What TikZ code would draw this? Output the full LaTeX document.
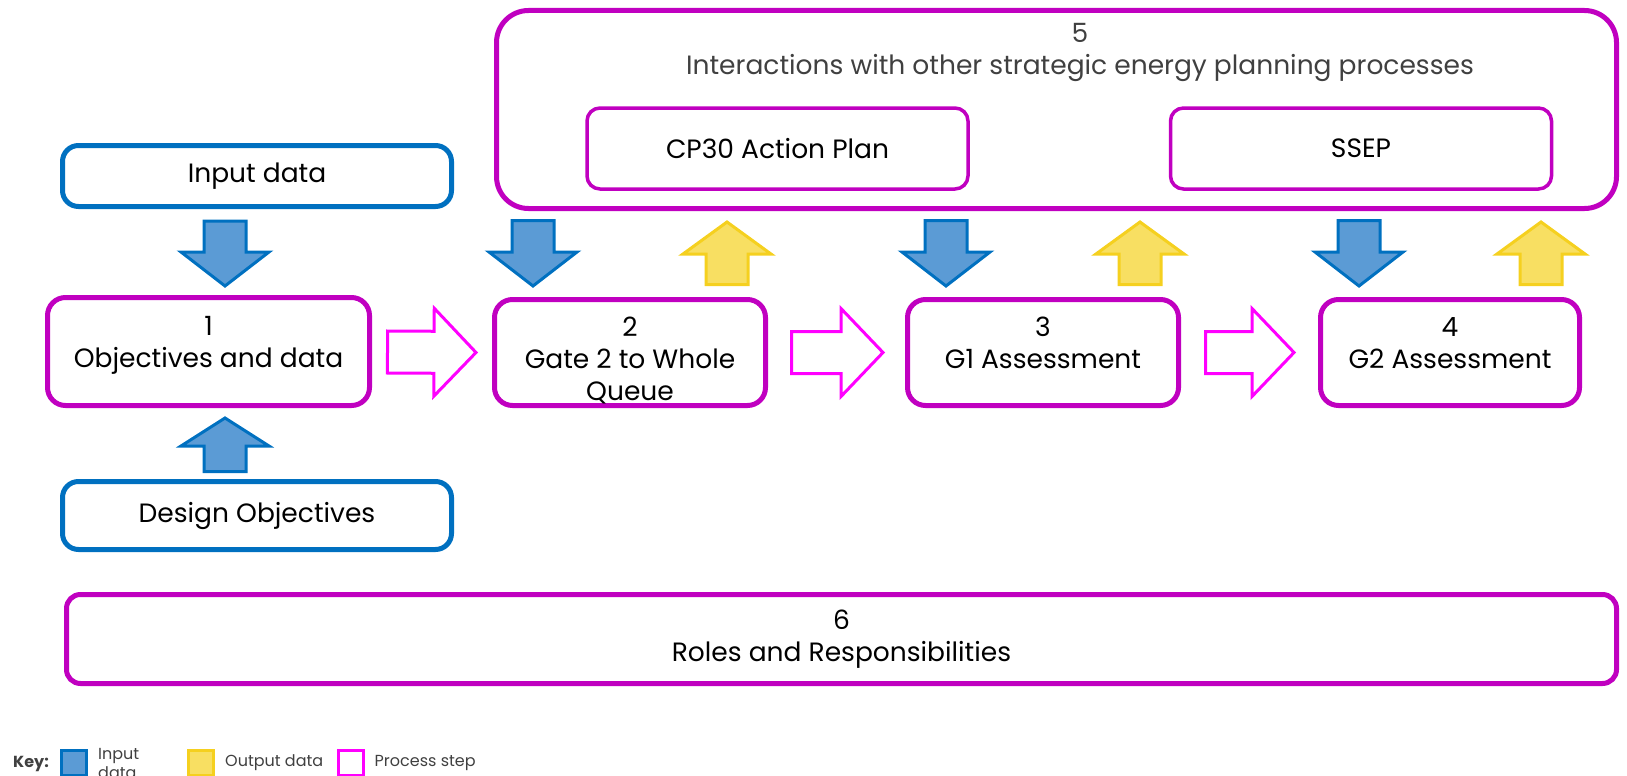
\documentclass[tikz,border=0pt]{standalone}
\usepackage{fontspec}
\setmainfont{Poppins}
\usetikzlibrary{positioning, calc}
\definecolor{procmag}{HTML}{C000C0}
\definecolor{steppink}{HTML}{FF00FF}
\definecolor{inblue}{HTML}{0070C0}
\definecolor{inblfill}{HTML}{5B9BD5}
\definecolor{outyel}{HTML}{F5D01F}
\definecolor{outylfill}{HTML}{F8DF62}
\definecolor{keygray}{HTML}{404040}

% block arrow: #2 = base, #3 = tip, #4 = head length
\newcommand{\blockarrow}[4][]{%
  \coordinate (hb) at ($(#3)!#4!(#2)$);
  \draw[#1] ($(#2)!21pt!90:(#3)$) -- ($(hb)!21pt!90:(#3)$) -- ($(hb)!44pt!90:(#3)$) -- (#3)
    -- ($(hb)!44pt!-90:(#3)$) -- ($(hb)!21pt!-90:(#3)$) -- ($(#2)!21pt!-90:(#3)$) -- cycle;
}

\begin{document}
\begin{tikzpicture}[x=1pt, y=-1pt,
    procbox/.style={rectangle, draw=procmag, line width=5pt, rounded corners=18pt},
    databox/.style={rectangle, draw=inblue, line width=5pt, rounded corners=16pt, font=\fontsize{26.5}{32}\selectfont},
    subbox/.style={rectangle, draw=procmag, line width=3.5pt, rounded corners=13pt, font=\fontsize{26.5}{32}\selectfont},
    proctext/.style={align=center, inner sep=0pt, font=\fontsize{26.5}{32}\selectfont},
    inarrow/.style={draw=inblue, fill=inblfill, line width=3pt},
    outarrow/.style={draw=outyel, fill=outylfill, line width=3pt},
    steparrow/.style={draw=steppink, line width=3pt},
    keybox/.style={rectangle, line width=3pt, minimum size=25pt, inner sep=0pt},
    keytext/.style={text=keygray, font=\fontsize{16}{19}\selectfont, align=left, inner sep=0pt}
]
\useasboundingbox (0,0) rectangle (1627,776);

% process steps
\node[procbox, minimum width=322pt, minimum height=108pt] (obj) at (208.5,351.5) {};
\node[procbox, minimum width=271pt, minimum height=106pt] (gate) at (630,352.5) {};
\node[procbox, minimum width=271pt, minimum height=106pt] (g1) at (1043,352.5) {};
\node[procbox, minimum width=259pt, minimum height=106pt] (g2) at (1450,352.5) {};

\node[proctext, below=21pt of obj.north] (objtxt) {1\\Objectives and data};
\node[proctext, below=20pt of gate.north] (gatetxt) {2\\Gate 2 to Whole\\Queue};
\node[proctext, below=20pt of g1.north] (g1txt) {3\\G1 Assessment};
\node[proctext, below=20pt of g2.north] (g2txt) {4\\G2 Assessment};

% interactions
\node[procbox, rounded corners=32pt, minimum width=1120pt, minimum height=198pt] (inter) at (1056.5,109.5) {};
\node[proctext, text=keygray, anchor=north] (intertxt) at (1080,23) {5\\Interactions with other strategic energy planning processes};
\node[subbox, minimum width=381pt, minimum height=81pt] (cp30) at (777.5,148.5) {CP30 Action Plan};
\node[subbox, minimum width=381pt, minimum height=81pt, right=199pt of cp30] (ssep) {SSEP};

% inputs
\node[databox, minimum width=389pt, minimum height=61pt] (indata) at (257,176) {Input data};
\node[databox, minimum width=389pt, minimum height=68pt] (design) at (257,515.5) {Design Objectives};

% roles
\node[procbox, rounded corners=14pt, minimum width=1550pt, minimum height=89pt, align=center,
      font=\fontsize{26.5}{32}\selectfont] (roles) at (841.5,639) {6\\Roles and Responsibilities};

% input arrows
\blockarrow[inarrow]{$(indata.south)+(-32,12)$}{$(obj.north)+(16.5,-9)$}{34pt}
\blockarrow[inarrow]{$(design.north)+(-32,-7.5)$}{$(obj.south)+(16.5,10)$}{28pt}
\blockarrow[inarrow]{$(inter.south)+(-523.5,9.5)$}{$(gate.north)+(-97,-11)$}{34pt}
\blockarrow[inarrow]{$(inter.south)+(-110.5,9.5)$}{$(g1.north)+(-97,-11)$}{34pt}
\blockarrow[inarrow]{$(inter.south)+(302.5,9.5)$}{$(g2.north)+(-91,-11)$}{34pt}

% output arrows
\blockarrow[outarrow]{$(gate.north)+(97,-12.5)$}{$(inter.south)+(-329.5,11)$}{32pt}
\blockarrow[outarrow]{$(g1.north)+(97,-12.5)$}{$(inter.south)+(83.5,11)$}{32pt}
\blockarrow[outarrow]{$(g2.north)+(91,-12.5)$}{$(inter.south)+(484.5,11)$}{32pt}

% process flow
\blockarrow[steparrow]{$(obj.east)+(15.5,0.5)$}{$(gate.west)+(-16,0)$}{42pt}
\blockarrow[steparrow]{$(gate.east)+(23.5,0)$}{$(g1.west)+(-22,0)$}{42pt}
\blockarrow[steparrow]{$(g1.east)+(24.5,0)$}{$(g2.west)+(-24,0)$}{42pt}

% key
\node[keytext, font=\bfseries\fontsize{16}{19}\selectfont, anchor=west] (keylbl) at (13,764) {Key:};
\node[keybox, draw=inblue, fill=inblfill] (keyin) at (74,763) {};
\node[keytext, right=10pt of keyin] (keyintxt) {Input\\data};
\node[keybox, draw=outyel, fill=outylfill] (keyout) at (201,763) {};
\node[keytext, right=10pt of keyout] (keyouttxt) {Output data};
\node[keybox, draw=steppink] (keystep) at (350.5,763) {};
\node[keytext, right=10pt of keystep] (keysteptxt) {Process step};

\end{tikzpicture}
\end{document}
